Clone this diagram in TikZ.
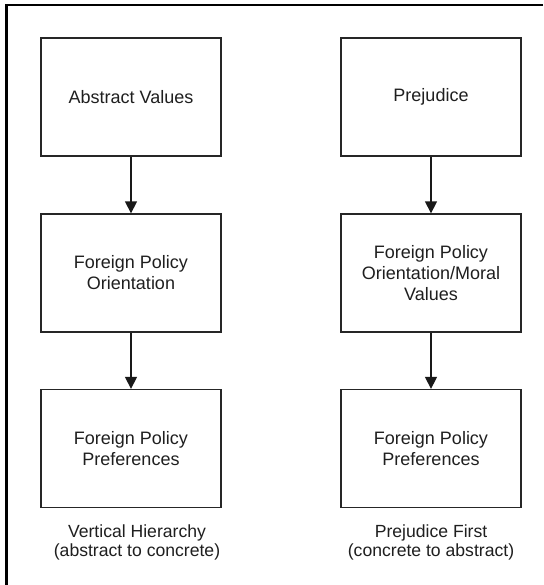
\documentclass[tikz,border=0pt]{standalone}
\usepackage{fontspec}
\setmainfont{Liberation Sans}
\usetikzlibrary{arrows.meta}
\begin{document}
\begin{tikzpicture}[x=1pt,y=-1pt,
  box/.style={draw=black!85, line width=1.3pt, minimum width=180pt, minimum height=118pt, inner sep=0pt, align=center, font=\fontsize{18}{21}\selectfont, text=black!88},
  lbl/.style={align=center, font=\fontsize{17.6}{19}\selectfont, text=black!88},
  conn/.style={draw=black!90, line width=1.3pt, -{Triangle[length=12pt,width=12pt]}}]
\useasboundingbox (0,0) rectangle (543,585);
\fill[white] (0,0) rectangle (543,585);
\draw[line width=2.5pt, black] (543,5) -- (6.5,5) -- (6.5,585);
% left column
\node[box] (av) at (131,97) {Abstract Values};
\node[box] (fpo) at (131,273) {Foreign Policy\\Orientation};
\node[box] (fpp1) at (131,448.5) {Foreign Policy\\Preferences};
% right column
\node[box] (pr) at (431,97) {Prejudice};
\node[box] (fpm) at (431,273) {Foreign Policy\\Orientation/Moral\\Values};
\node[box] (fpp2) at (431,448.5) {Foreign Policy\\Preferences};
% arrows
\draw[conn] (av) -- (fpo);
\draw[conn] (fpo) -- (fpp1);
\draw[conn] (pr) -- (fpm);
\draw[conn] (fpm) -- (fpp2);
% labels
\node[lbl] (l1) at (137,542) {Vertical Hierarchy\\(abstract to concrete)};
\node[lbl] (l2) at (431,542) {Prejudice First\\(concrete to abstract)};
\end{tikzpicture}
\end{document}
